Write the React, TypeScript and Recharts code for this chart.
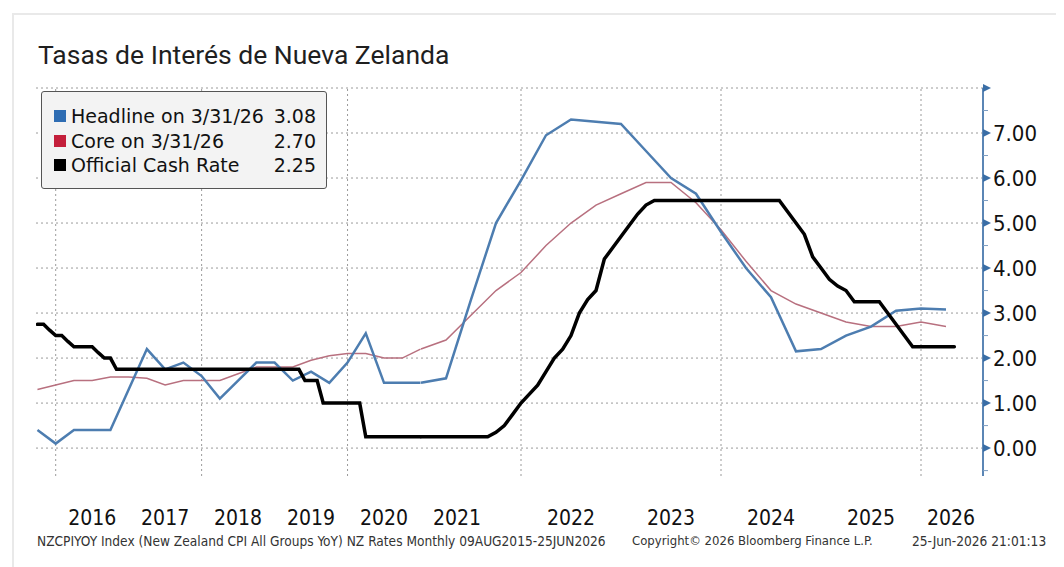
import React from 'react';
import { LineChart, Line, XAxis, YAxis, CartesianGrid, ReferenceLine } from 'recharts';

// CPI YoY, quarterly, dated at quarter end
const cpiQuarters = [
  '2015-09', '2015-12',
  '2016-03', '2016-06', '2016-09', '2016-12',
  '2017-03', '2017-06', '2017-09', '2017-12',
  '2018-03', '2018-06', '2018-09', '2018-12',
  '2019-03', '2019-06', '2019-09', '2019-12',
  '2020-03', '2020-06', '2020-09', '2020-12',
  '2021-03', '2021-06', '2021-09', '2021-12',
  '2022-03', '2022-06', '2022-09', '2022-12',
  '2023-03', '2023-06', '2023-09', '2023-12',
  '2024-03', '2024-06', '2024-09', '2024-12',
  '2025-03', '2025-06', '2025-09', '2025-12',
  '2026-03',
];

const headlineCpi = [
  0.4, 0.1,
  0.4, 0.4, 0.4, 1.3,
  2.2, 1.75, 1.9, 1.6,
  1.1, 1.5, 1.9, 1.9,
  1.5, 1.7, 1.45, 1.9,
  2.55, 1.45, 1.45, 1.45,
  1.55, 3.3, 5.0, 5.95,
  6.95, 7.3, 7.25, 7.2,
  6.6, 6.0, 5.65, 4.8,
  4.0, 3.35, 2.15, 2.2,
  2.5, 2.7, 3.05, 3.1,
  3.08,
];

const coreCpi = [
  1.3, 1.4,
  1.5, 1.5, 1.58, 1.58,
  1.55, 1.4, 1.5, 1.5,
  1.5, 1.65, 1.8, 1.8,
  1.8, 1.95, 2.05, 2.1,
  2.1, 2.0, 2.0, 2.2,
  2.4, 2.95, 3.5, 3.9,
  4.5, 5.0, 5.4, 5.65,
  5.9, 5.9, 5.45, 4.85,
  4.15, 3.5, 3.2, 3.0,
  2.8, 2.7, 2.7, 2.8,
  2.7,
];

// Official Cash Rate, monthly from Sep 2015 to Apr 2026
const ocrFirstMonth = '2015-09';
const ocrMonthly = [
  2.75, 2.75, 2.62, 2.5,
  2.5, 2.37, 2.25, 2.25, 2.25, 2.25, 2.12, 2.0, 2.0, 1.75, 1.75, 1.75,
  1.75, 1.75, 1.75, 1.75, 1.75, 1.75, 1.75, 1.75, 1.75, 1.75, 1.75, 1.75,
  1.75, 1.75, 1.75, 1.75, 1.75, 1.75, 1.75, 1.75, 1.75, 1.75, 1.75, 1.75,
  1.75, 1.75, 1.75, 1.75, 1.5, 1.5, 1.5, 1.0, 1.0, 1.0, 1.0, 1.0,
  1.0, 1.0, 0.25, 0.25, 0.25, 0.25, 0.25, 0.25, 0.25, 0.25, 0.25, 0.25,
  0.25, 0.25, 0.25, 0.25, 0.25, 0.25, 0.25, 0.25, 0.35, 0.5, 0.75, 1.0,
  1.2, 1.4, 1.7, 2.0, 2.2, 2.5, 3.0, 3.3, 3.5, 4.2, 4.45, 4.7,
  4.95, 5.2, 5.4, 5.5, 5.5, 5.5, 5.5, 5.5, 5.5, 5.5, 5.5, 5.5,
  5.5, 5.5, 5.5, 5.5, 5.5, 5.5, 5.5, 5.25, 5.0, 4.75, 4.25, 4.0,
  3.75, 3.6, 3.5, 3.25, 3.25, 3.25, 3.25, 3.0, 2.75, 2.5, 2.25, 2.25,
  2.25, 2.25, 2.25, 2.25,
];

const yTicks = [-0.5, 0, 0.5, 1, 1.5, 2, 2.5, 3, 3.5, 4, 4.5, 5, 5.5, 6, 6.5, 7, 7.5, 8];
const gridValues = [0, 1, 2, 3, 4, 5, 6, 7, 8];
const gridYearsEarly = [2016, 2018, 2020];
const gridYearsLate = [2022, 2024, 2026];
const yearTicksEarly = [2016.5, 2017.5, 2018.5, 2019.5, 2020.5, 2021.5];
const yearTicksLate = [2022.5, 2023.5, 2024.5, 2025.5, 2026.3];

// the source chart draws the years from 2021 on wider than the earlier ones,
// so two linear time axes are used, meeting at the end of 2020
const SPLIT = 2021;
const earlyDomain = [2015.73, 2028.71];
const lateDomain = [2017.15, 2026.62];

const toT = (ym: string) => {
  const [y, m] = ym.split('-').map(Number);
  return y + m / 12;
};

const cpiRows = cpiQuarters.map((q, i) => ({ t: toT(q), headline: headlineCpi[i], core: coreCpi[i] }));
const ocrStartT = toT(ocrFirstMonth);
const ocrRows = ocrMonthly.map((v, i) => ({ t: ocrStartT + i / 12, ocr: v }));

const early = <T extends { t: number }>(rows: T[]) => rows.filter((r) => r.t <= SPLIT + 1e-6);
const late = <T extends { t: number }>(rows: T[]) => rows.filter((r) => r.t >= SPLIT - 1e-6);

const BLUE = '#4d7db0';
const ROSE = '#b8707f';
const axisFont = "'DejaVu Sans Condensed', 'DejaVu Sans', sans-serif";
const footFont = "Tahoma, 'DejaVu Sans Condensed', 'DejaVu Sans', sans-serif";

const RightTick = (props: any) => {
  const { x, y, payload } = props;
  const v = payload.value as number;
  const major = Number.isInteger(v);
  if (!major) {
    return <line x1={x} x2={x + 5} y1={y} y2={y} stroke="#7f9ec2" strokeWidth={1} />;
  }
  return (
    <g>
      <polygon points={`${x},${y - 4} ${x + 8},${y} ${x},${y + 4}`} fill="#3a6ea6" />
      {v < 8 && (
        <text x={x + 10} y={y} dy="0.36em" fontSize={22} fontFamily={axisFont} fill="#111">
          {v.toFixed(2)}
        </text>
      )}
    </g>
  );
};

const YearTick = (props: any) => {
  const { x, y, payload } = props;
  return (
    <text x={x} y={y} dy="0.71em" textAnchor="middle" fontSize={21} fontFamily={axisFont} fill="#111">
      {Math.floor(payload.value)}
    </text>
  );
};

const legendRows = [
  { color: '#2f6db3', label: 'Headline on 3/31/26', value: '3.08' },
  { color: '#c41f3b', label: 'Core on 3/31/26', value: '2.70' },
  { color: '#000000', label: 'Official Cash Rate', value: '2.25' },
];

export default function App() {
  return (
    <div style={{ position: 'relative', width: 1056, height: 559, background: '#fff', overflow: 'hidden' }}>
      <div style={{ position: 'absolute', left: 4, top: 5, right: 0, bottom: 0, borderTop: '2px solid #e9e9e9', borderLeft: '2px solid #e9e9e9' }} />
      <div style={{ position: 'absolute', left: 30, top: 32, fontFamily: 'Roboto, sans-serif', fontSize: 26.5, lineHeight: '30px', color: '#1f1f1f' }}>
        Tasas de Interés de Nueva Zelanda
      </div>

      <div style={{ position: 'absolute', left: 0, top: 70 }}>
        <LineChart width={1056} height={480} margin={{ top: 10, right: 21, left: 28, bottom: 80 }}>
          <CartesianGrid xAxisId="a" yAxisId="y" vertical={false} horizontalValues={gridValues} stroke="#9a9a9a" strokeDasharray="2 3" />
          {gridYearsEarly.map((yr) => (
            <ReferenceLine key={yr} xAxisId="a" yAxisId="y" x={yr} stroke="#9a9a9a" strokeDasharray="2 3" />
          ))}
          {gridYearsLate.map((yr) => (
            <ReferenceLine key={yr} xAxisId="b" yAxisId="y" x={yr} stroke="#9a9a9a" strokeDasharray="2 3" />
          ))}
          <XAxis
            xAxisId="a"
            type="number"
            dataKey="t"
            domain={earlyDomain}
            allowDataOverflow
            ticks={yearTicksEarly}
            interval={0}
            height={1}
            axisLine={false}
            tickLine={false}
            tickSize={0}
            tickMargin={34}
            tick={(p: any) => <YearTick {...p} />}
          />
          <XAxis
            xAxisId="b"
            type="number"
            dataKey="t"
            domain={lateDomain}
            allowDataOverflow
            ticks={yearTicksLate}
            interval={0}
            height={1}
            axisLine={false}
            tickLine={false}
            tickSize={0}
            tickMargin={33}
            tick={(p: any) => <YearTick {...p} />}
          />
          <YAxis
            yAxisId="y"
            orientation="right"
            type="number"
            domain={[-0.62, 8]}
            allowDataOverflow
            ticks={yTicks}
            interval={0}
            width={60}
            tickSize={0}
            tickMargin={0}
            tickLine={false}
            axisLine={{ stroke: '#5b86b5', strokeWidth: 2 }}
            tick={(p: any) => <RightTick {...p} />}
          />

          <Line xAxisId="a" yAxisId="y" data={early(cpiRows)} dataKey="core" stroke={ROSE} strokeWidth={1.5} dot={false} isAnimationActive={false} />
          <Line xAxisId="b" yAxisId="y" data={late(cpiRows)} dataKey="core" stroke={ROSE} strokeWidth={1.5} dot={false} isAnimationActive={false} />
          <Line xAxisId="a" yAxisId="y" data={early(cpiRows)} dataKey="headline" stroke={BLUE} strokeWidth={2.5} dot={false} isAnimationActive={false} />
          <Line xAxisId="b" yAxisId="y" data={late(cpiRows)} dataKey="headline" stroke={BLUE} strokeWidth={2.5} dot={false} isAnimationActive={false} />
          <Line xAxisId="a" yAxisId="y" data={early(ocrRows)} dataKey="ocr" stroke="#000" strokeWidth={3.5} strokeLinecap="round" dot={false} isAnimationActive={false} />
          <Line xAxisId="b" yAxisId="y" data={late(ocrRows)} dataKey="ocr" stroke="#000" strokeWidth={3.5} strokeLinecap="round" dot={false} isAnimationActive={false} />
        </LineChart>
      </div>

      <div
        style={{
          position: 'absolute',
          left: 33,
          top: 83,
          width: 284,
          height: 96,
          border: '1px solid #555',
          borderRadius: 3,
          background: '#f3f3f3',
          fontFamily: "'DejaVu Sans', sans-serif",
          fontSize: 19,
          color: '#111',
          boxSizing: 'content-box',
        }}
      >
        {legendRows.map((r, i) => (
          <div key={r.label} style={{ position: 'absolute', left: 12, top: 12 + i * 24.5, width: 262, height: 24, display: 'flex', alignItems: 'center' }}>
            <span style={{ width: 12, height: 12, background: r.color, marginRight: 5, flex: 'none' }} />
            <span style={{ flex: 1, whiteSpace: 'nowrap' }}>{r.label}</span>
            <span style={{ whiteSpace: 'nowrap' }}>{r.value}</span>
          </div>
        ))}
      </div>

      <div style={{ position: 'absolute', top: 525, left: 29, fontFamily: footFont, fontSize: 13.6, lineHeight: '16px', color: '#333', whiteSpace: 'nowrap' }}>
        NZCPIYOY Index (New Zealand CPI All Groups YoY) NZ Rates Monthly 09AUG2015-25JUN2026
      </div>
      <div style={{ position: 'absolute', top: 525, left: 624, fontFamily: footFont, fontSize: 13, lineHeight: '16px', color: '#333', whiteSpace: 'nowrap' }}>
        Copyright© 2026 Bloomberg Finance L.P.
      </div>
      <div style={{ position: 'absolute', top: 525, left: 904, fontFamily: footFont, fontSize: 13.6, lineHeight: '16px', color: '#333', whiteSpace: 'nowrap' }}>
        25-Jun-2026 21:01:13
      </div>
    </div>
  );
}
